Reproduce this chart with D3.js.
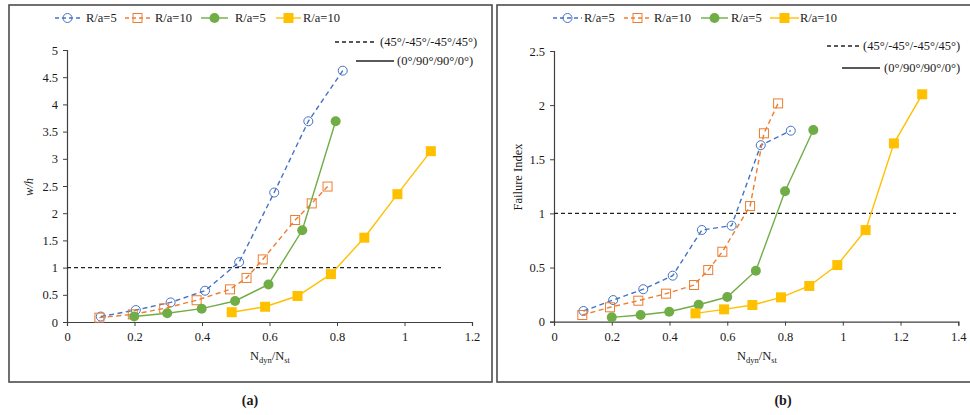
<!DOCTYPE html>
<html>
<head>
<meta charset="utf-8">
<script src="https://cdn.jsdelivr.net/npm/d3@7"></script>
<style>
  html, body { margin: 0; padding: 0; background: #fff; }
  svg { display: block; }
  svg text { font-family: "Liberation Serif", "Times New Roman", serif; }
</style>
</head>
<body>
<svg id="chart" width="970" height="415"></svg>
<script>
// Panel (a): normalised deflection w/h against N_dyn/N_st
const aBlueX   = [0.100, 0.204, 0.307, 0.409, 0.510, 0.614, 0.715, 0.817];
const aBlueY   = [0.10, 0.22, 0.36, 0.575, 1.10, 2.38, 3.69, 4.62];
const aOrangeX = [0.096, 0.195, 0.288, 0.384, 0.483, 0.532, 0.580, 0.676, 0.725, 0.772];
const aOrangeY = [0.08, 0.14, 0.25, 0.40, 0.60, 0.81, 1.15, 1.875, 2.18, 2.49];
const aGreenX  = [0.199, 0.297, 0.399, 0.498, 0.597, 0.697, 0.796];
const aGreenY  = [0.10, 0.16, 0.245, 0.386, 0.69, 1.686, 3.69];
const aYellowX = [0.488, 0.587, 0.683, 0.782, 0.881, 0.979, 1.078];
const aYellowY = [0.18, 0.28, 0.478, 0.88, 1.55, 2.35, 3.14];

// Panel (b): failure index against N_dyn/N_st
const bBlueX   = [0.102, 0.205, 0.309, 0.411, 0.512, 0.615, 0.716, 0.820];
const bBlueY   = [0.099, 0.20, 0.30, 0.425, 0.847, 0.887, 1.63, 1.764];
const bOrangeX = [0.098, 0.194, 0.292, 0.388, 0.485, 0.534, 0.583, 0.679, 0.727, 0.776];
const bOrangeY = [0.062, 0.133, 0.194, 0.259, 0.339, 0.477, 0.646, 1.068, 1.74, 2.016];
const bGreenX  = [0.200, 0.300, 0.399, 0.501, 0.600, 0.699, 0.800, 0.898];
const bGreenY  = [0.04, 0.062, 0.092, 0.157, 0.228, 0.471, 1.204, 1.77];
const bYellowX = [0.490, 0.589, 0.687, 0.786, 0.884, 0.981, 1.079, 1.177, 1.275];
const bYellowY = [0.077, 0.114, 0.154, 0.225, 0.33, 0.523, 0.846, 1.647, 2.10];

const aXTicks = [0, 0.2, 0.4, 0.6, 0.8, 1, 1.2];
const aYTicks = [0, 0.5, 1, 1.5, 2, 2.5, 3, 3.5, 4, 4.5, 5];
const bXTicks = [0, 0.2, 0.4, 0.6, 0.8, 1, 1.2, 1.4];
const bYTicks = [0, 0.5, 1, 1.5, 2, 2.5];

const seriesNames = ["R/a=5", "R/a=10", "R/a=5", "R/a=10"];
const layupNames = ["(45°/-45°/-45°/45°)", "(0°/90°/90°/0°)"];
const failureLimit = 1;

const BLUE = "#4472C4", ORANGE = "#ED7D31", GREEN = "#70AD47", YELLOW = "#FFC000";
const FONT = "Liberation Serif";
const FS = 12.5;
const INK = "#1a1a1a";

const svg = d3.select("#chart");

// outer frames of the two panels
svg.append("rect").attr("x", 9).attr("y", 5).attr("width", 483).attr("height", 377)
  .attr("fill", "none").attr("stroke", "#4d4d4d").attr("stroke-width", 1.6);
svg.append("rect").attr("x", 497).attr("y", 5).attr("width", 480).attr("height", 377)
  .attr("fill", "none").attr("stroke", "#4d4d4d").attr("stroke-width", 1.6);

function zipXY(xs, ys) { return xs.map((x, i) => [x, ys[i]]); }

function drawMarker(g, kind, x, y, color) {
  if (kind === "openCircle") {
    g.append("circle").attr("cx", x).attr("cy", y).attr("r", 4.5)
      .attr("fill", "none").attr("stroke", color).attr("stroke-width", 1);
  } else if (kind === "openSquare") {
    g.append("rect").attr("x", x - 4.5).attr("y", y - 4.5).attr("width", 9).attr("height", 9)
      .attr("fill", "none").attr("stroke", color).attr("stroke-width", 1);
  } else if (kind === "dot") {
    g.append("circle").attr("cx", x).attr("cy", y).attr("r", 5).attr("fill", color);
  } else {
    g.append("rect").attr("x", x - 5).attr("y", y - 5).attr("width", 10).attr("height", 10)
      .attr("fill", color);
  }
}

function label(g, x, y) {
  return g.append("text").attr("x", x).attr("y", y)
    .attr("font-family", FONT).attr("font-size", FS).attr("fill", INK);
}

function panel(cfg) {
  const x = d3.scaleLinear().domain(cfg.xDomain).range(cfg.xRange);
  const y = d3.scaleLinear().domain(cfg.yDomain).range(cfg.yRange);
  const g = svg.append("g");

  // axes
  const xAxis = g.append("g").attr("transform", `translate(0,${cfg.yRange[0]})`)
    .call(d3.axisBottom(x).tickValues(cfg.xTicks).tickSize(4).tickPadding(6).tickFormat(d3.format("")));
  const yAxis = g.append("g").attr("transform", `translate(${cfg.xRange[0]},0)`)
    .call(d3.axisLeft(y).tickValues(cfg.yTicks).tickSize(4).tickPadding(5).tickFormat(d3.format("")));
  [xAxis, yAxis].forEach(a => {
    a.attr("font-family", FONT).attr("font-size", FS);
    a.select(".domain").attr("stroke", "#404040").attr("stroke-width", 1.2);
    a.selectAll(".tick line").attr("stroke", "#404040");
    a.selectAll(".tick text").attr("fill", INK);
  });

  // limit line at value 1
  g.append("line").attr("x1", cfg.xRange[0]).attr("x2", cfg.limitEnd)
    .attr("y1", y(failureLimit)).attr("y2", y(failureLimit))
    .attr("stroke", "#222").attr("stroke-width", 1.3).attr("stroke-dasharray", "4,3");

  const line = d3.line().x(d => x(d[0])).y(d => y(d[1]));
  cfg.series.forEach(s => {
    const pts = zipXY(s.xs, s.ys);
    g.append("path").attr("d", line(pts)).attr("fill", "none")
      .attr("stroke", s.color).attr("stroke-width", 1.4)
      .attr("stroke-dasharray", s.dashed ? "5,3.5" : null);
    pts.forEach(p => drawMarker(g, s.marker, x(p[0]), y(p[1]), s.color));
  });

  // x label with subscripts
  const xl = label(g, cfg.xLabelX, 360).attr("text-anchor", "middle");
  xl.append("tspan").text("N");
  xl.append("tspan").text("dyn").attr("font-size", 8.5).attr("dy", 3);
  xl.append("tspan").text("/N").attr("dy", -3);
  xl.append("tspan").text("st").attr("font-size", 8.5).attr("dy", 3);

  // y label
  label(g, 0, 0).attr("transform", `translate(${cfg.yLabelX},${cfg.yLabelY}) rotate(-90)`)
    .attr("text-anchor", "middle")
    .attr("font-style", cfg.yLabelItalic ? "italic" : null)
    .text(cfg.yLabel);

  // series legend
  cfg.series.forEach((s, i) => {
    const L = cfg.legend[i];
    g.append("line").attr("x1", L[0]).attr("x2", L[1]).attr("y1", 18).attr("y2", 18)
      .attr("stroke", s.color).attr("stroke-width", 1.4)
      .attr("stroke-dasharray", s.dashed ? "4,3" : null);
    drawMarker(g, s.marker, (L[0] + L[1]) / 2, 18, s.color);
    label(g, L[2], 22).text(seriesNames[i]);
  });

  // layup legend
  const lk = cfg.layupKey;
  g.append("line").attr("x1", lk[0][0]).attr("x2", lk[0][1]).attr("y1", lk[0][2]).attr("y2", lk[0][2])
    .attr("stroke", "#222").attr("stroke-width", 1.3).attr("stroke-dasharray", "4,3");
  label(g, lk[0][3], lk[0][2] + 4).text(layupNames[0]);
  g.append("line").attr("x1", lk[1][0]).attr("x2", lk[1][1]).attr("y1", lk[1][2]).attr("y2", lk[1][2])
    .attr("stroke", "#222").attr("stroke-width", 1.3);
  label(g, lk[1][3], lk[1][2] + 4).text(layupNames[1]);

  // panel caption
  label(g, cfg.captionX, 405).attr("text-anchor", "middle")
    .attr("font-size", 14).attr("font-weight", "bold").text(cfg.caption);
}

panel({
  xDomain: [0, 1.2], xRange: [67, 472], yDomain: [0, 5], yRange: [322, 50],
  xTicks: aXTicks, yTicks: aYTicks, limitEnd: 441,
  xLabelX: 270, yLabelX: 33, yLabelY: 187, yLabel: "w/h", yLabelItalic: true,
  legend: [[55, 80, 86], [125, 150, 155], [201, 228, 235], [276, 301, 303]],
  layupKey: [[335, 375, 42, 380], [356, 394, 61, 397]],
  caption: "(a)", captionX: 250,
  series: [
    { xs: aBlueX, ys: aBlueY, color: BLUE, dashed: true, marker: "openCircle" },
    { xs: aOrangeX, ys: aOrangeY, color: ORANGE, dashed: true, marker: "openSquare" },
    { xs: aGreenX, ys: aGreenY, color: GREEN, dashed: false, marker: "dot" },
    { xs: aYellowX, ys: aYellowY, color: YELLOW, dashed: false, marker: "square" }
  ]
});

panel({
  xDomain: [0, 1.4], xRange: [554, 958.3], yDomain: [0, 2.5], yRange: [321.7, 51],
  xTicks: bXTicks, yTicks: bYTicks, limitEnd: 956,
  xLabelX: 757, yLabelX: 522, yLabelY: 177, yLabel: "Failure Index", yLabelItalic: false,
  legend: [[553, 582, 584], [624, 651, 654], [701, 728, 731], [770, 799, 800]],
  layupKey: [[827, 862, 46, 863], [842, 880, 68, 884]],
  caption: "(b)", captionX: 783,
  series: [
    { xs: bBlueX, ys: bBlueY, color: BLUE, dashed: true, marker: "openCircle" },
    { xs: bOrangeX, ys: bOrangeY, color: ORANGE, dashed: true, marker: "openSquare" },
    { xs: bGreenX, ys: bGreenY, color: GREEN, dashed: false, marker: "dot" },
    { xs: bYellowX, ys: bYellowY, color: YELLOW, dashed: false, marker: "square" }
  ]
});
</script>
</body>
</html>
